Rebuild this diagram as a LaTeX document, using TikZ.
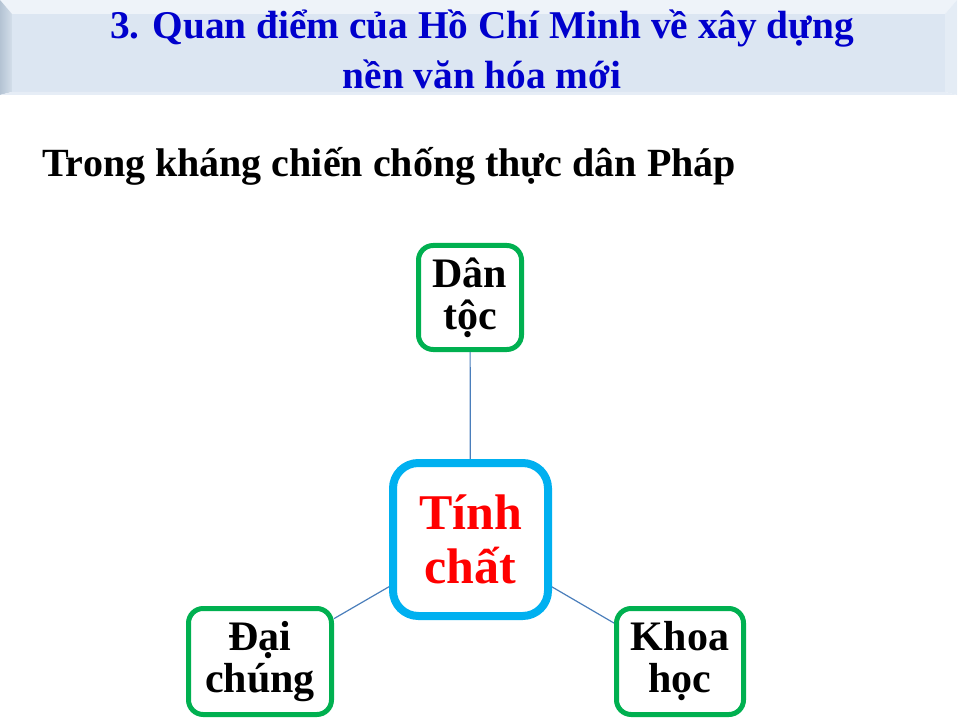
\documentclass[tikz,border=0pt]{standalone}
\usepackage{fontspec}
\setmainfont{Liberation Serif}
\definecolor{titleblue}{RGB}{0,0,204}
\definecolor{face}{HTML}{DCE6F2}
\definecolor{bevtop}{HTML}{EEF3F9}
\definecolor{bevleftA}{HTML}{B4C3D3}
\definecolor{bevleftB}{HTML}{D3DEEA}
\definecolor{bevright}{HTML}{E4ECF5}
\definecolor{bevbot}{HTML}{E6EDF6}
\definecolor{boxgreen}{HTML}{00B050}
\definecolor{boxblue}{HTML}{00B0F0}
\definecolor{connblue}{HTML}{4A7EBB}
\begin{document}
\begin{tikzpicture}[x=0.75pt,y=-0.75pt,
  titletext/.style={font=\fontsize{29.5}{36}\selectfont\bfseries, text=titleblue, inner sep=0pt, anchor=base},
  subtext/.style={font=\fontsize{30}{36}\selectfont\bfseries, text=black, inner sep=0pt, anchor=base west},
  greenbox/.style={draw=boxgreen, line width=3.75pt, rounded corners=11pt, fill=white, align=center,
    font=\fontsize{31.5}{31.5}\selectfont\bfseries, inner sep=0pt},
  bluebox/.style={draw=boxblue, line width=6pt, rounded corners=19pt, fill=white, align=center,
    font=\fontsize{37.5}{40}\selectfont\bfseries, text=red, inner sep=0pt,
    minimum width=116.25pt, minimum height=114.75pt},
  conn/.style={draw=connblue, line width=0.9pt}
]
\useasboundingbox (0,0) rectangle (960,720);
% title bar with bevel
\fill[face] (12,14) rectangle (945,92);
\fill[bevtop] (0,0) -- (957,0) -- (945,14) -- (12,14) -- cycle;
\shade[left color=bevleftA, right color=bevleftB] (0,0) -- (12,14) -- (12,92) -- (0,95) -- cycle;
\fill[bevright] (957,0) -- (957,95) -- (945,92) -- (945,14) -- cycle;
\fill[bevbot] (0,95) -- (12,92) -- (945,92) -- (957,95) -- cycle;
\node[titletext] (title1) at (482,39) {3. Quan điểm của Hồ Chí Minh về xây dựng};
\node[titletext] (title2) at (482,89) {nền văn hóa mới};
\node[subtext] (sub) at (42,177) {Trong kháng chiến chống thực dân Pháp};
% nodes
\node[greenbox, minimum width=77.25pt, minimum height=78pt] (dt) at (470,297.5) {Dân\\tộc};
\node[bluebox] (tc) at (470.5,539.5) {Tính\\chất};
\node[greenbox, minimum width=107.25pt, minimum height=79.5pt] (dc) at (260,661.5) {Đại\\chúng};
\node[greenbox, minimum width=95.25pt, minimum height=79.5pt] (kh) at (680,661.5) {Khoa\\học};
% connectors
\draw[conn] (dt) -- (tc);
\draw[conn] (tc) -- (dc);
\draw[conn] (tc) -- (kh);
\end{tikzpicture}
\end{document}
